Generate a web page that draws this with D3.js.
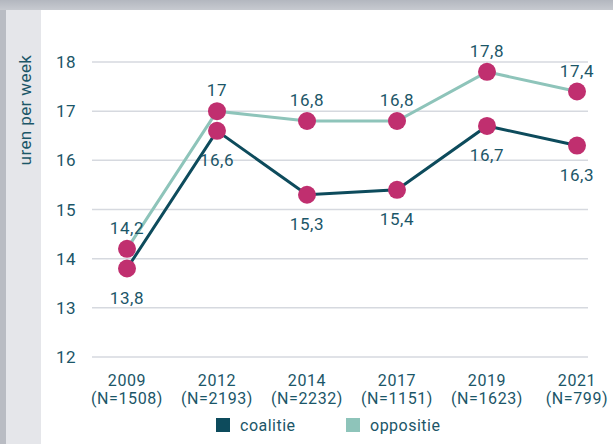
<!DOCTYPE html>
<html>
<head>
<meta charset="utf-8">
<script src="https://cdn.jsdelivr.net/npm/d3@7"></script>
<style>
  body { margin: 0; background: #fff; }
  svg { display: block; font-family: "Roboto", "DejaVu Sans", sans-serif; }
</style>
</head>
<body>
<div id="chart"></div>
<script>
const years = ["2009", "2012", "2014", "2017", "2019", "2021"];
const sampleSizes = ["(N=1508)", "(N=2193)", "(N=2232)", "(N=1151)", "(N=1623)", "(N=799)"];
const coalitie = [13.8, 16.6, 15.3, 15.4, 16.7, 16.3];
const oppositie = [14.2, 17, 16.8, 16.8, 17.8, 17.4];
const yTicks = [12, 13, 14, 15, 16, 17, 18];

const width = 613, height = 444;
const ink = "#1b5668";
const colCoal = "#0d4b5c";
const colOpp = "#8ec4ba";
const dot = "#c02f6f";

const svg = d3.select("#chart").append("svg")
  .attr("width", width)
  .attr("height", height);

// background frame
const grad = svg.append("defs").append("linearGradient")
  .attr("id", "topbar").attr("x1", 0).attr("x2", 0).attr("y1", 0).attr("y2", 1);
grad.append("stop").attr("offset", "0%").attr("stop-color", "#b3b7bf");
grad.append("stop").attr("offset", "100%").attr("stop-color", "#c7cad0");

svg.append("rect").attr("x", 0).attr("y", 0).attr("width", 6).attr("height", height).attr("fill", "#b9bcc3");
svg.append("rect").attr("x", 6).attr("y", 10).attr("width", 35).attr("height", height).attr("fill", "#e5e6ea");
svg.append("rect").attr("x", 0).attr("y", 0).attr("width", width).attr("height", 10).attr("fill", "url(#topbar)");

const x = d3.scalePoint().domain(years).range([127, 577]);
const y = d3.scaleLinear().domain([12, 18]).range([357, 62]);

// grid
svg.append("g")
  .selectAll("line")
  .data(yTicks)
  .join("line")
  .attr("x1", 92).attr("x2", 588)
  .attr("y1", d => y(d)).attr("y2", d => y(d))
  .attr("stroke", "#d6d9df")
  .attr("stroke-width", 1.5);

// y tick labels
svg.append("g")
  .selectAll("text")
  .data(yTicks)
  .join("text")
  .attr("x", 76)
  .attr("y", d => y(d))
  .attr("dy", "0.36em")
  .attr("text-anchor", "end")
  .attr("fill", ink)
  .style("font-size", "17px")
  .style("letter-spacing", "0.5px")
  .text(d => d);

// axis title
svg.append("text")
  .attr("transform", "translate(31,110) rotate(-90)")
  .attr("text-anchor", "middle")
  .attr("fill", ink)
  .style("font-size", "17px")
  .style("letter-spacing", "0.4px")
  .text("uren per week");

// x labels
const xl = svg.append("g").selectAll("text")
  .data(years)
  .join("text")
  .attr("x", d => x(d))
  .attr("text-anchor", "middle")
  .attr("fill", ink)
  .style("font-size", "16px")
  .style("letter-spacing", "0.6px");
xl.append("tspan").attr("x", d => x(d)).attr("y", 386).text(d => d);
xl.append("tspan").attr("x", d => x(d)).attr("y", 404).text((d, i) => sampleSizes[i]);

const line = d3.line().x((d, i) => x(years[i])).y(d => y(d));

svg.append("path").datum(oppositie)
  .attr("d", line).attr("fill", "none")
  .attr("stroke", colOpp).attr("stroke-width", 3);
svg.append("path").datum(coalitie)
  .attr("d", line).attr("fill", "none")
  .attr("stroke", colCoal).attr("stroke-width", 3);

const fmt = v => String(v).replace(".", ",");

[[oppositie, -15], [coalitie, 35]].forEach(([vals, off]) => {
  svg.append("g").selectAll("circle")
    .data(vals)
    .join("circle")
    .attr("cx", (d, i) => x(years[i]))
    .attr("cy", d => y(d))
    .attr("r", 9)
    .attr("fill", dot);
  svg.append("g").selectAll("text")
    .data(vals)
    .join("text")
    .attr("x", (d, i) => x(years[i]))
    .attr("y", d => y(d) + off)
    .attr("text-anchor", "middle")
    .attr("fill", ink)
    .style("font-size", "17px")
    .style("letter-spacing", "0.6px")
    .text(fmt);
});

// legend
const legend = [["coalitie", colCoal, 216], ["oppositie", colOpp, 346]];
const lg = svg.append("g").selectAll("g").data(legend).join("g");
lg.append("rect")
  .attr("x", d => d[2]).attr("y", 418)
  .attr("width", 14).attr("height", 14)
  .attr("fill", d => d[1]);
lg.append("text")
  .attr("x", d => d[2] + 24).attr("y", 431)
  .attr("fill", ink)
  .style("font-size", "16px")
  .style("letter-spacing", "0.5px")
  .text(d => d[0]);
</script>
</body>
</html>
